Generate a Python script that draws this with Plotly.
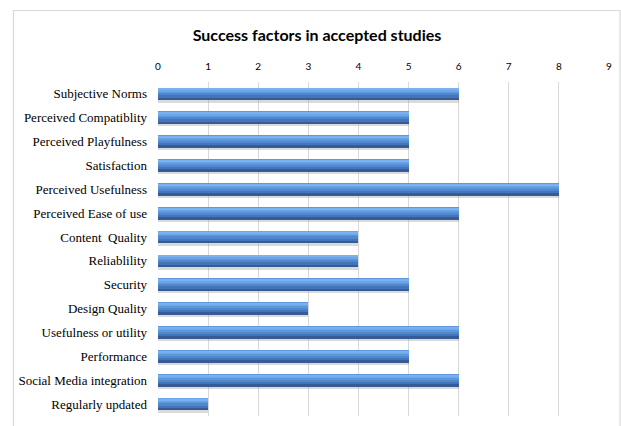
import plotly.graph_objects as go

categories = ["Subjective Norms", "Perceived Compatiblity", "Perceived Playfulness",
              "Satisfaction", "Perceived Usefulness", "Perceived Ease of use",
              "Content  Quality", "Reliablility", "Security", "Design Quality",
              "Usefulness or utility", "Performance", "Social Media integration",
              "Regularly updated"]
values = [6, 5, 5, 5, 8, 6, 4, 4, 5, 3, 6, 5, 6, 1]
x_ticks = [0, 1, 2, 3, 4, 5, 6, 7, 8, 9]
title_text = "Success factors in accepted studies"

W = 0.53
top = -W / 2
# layers: (color, offset, width) - simulate vertical gradient of Excel bars
layers = [
    ("rgba(150,150,150,0.35)", top + 0.07, W + 0.03),
    ("#375c95", top, W),
    ("#4475b9", top, W * 0.80),
    ("#5087ce", top, W * 0.62),
    ("#5d97de", top, W * 0.45),
    ("#6ca6e8", top + W * 0.05, W * 0.28),
    ("#7ab2ef", top + W * 0.10, W * 0.12),
]

fig = go.Figure()
for color, off, w in layers:
    fig.add_trace(go.Bar(
        x=values, y=categories, orientation="h",
        marker=dict(color=color, line=dict(width=0)),
        offset=off, width=w, hoverinfo="skip", showlegend=False,
    ))

L, R, T, B = 158, 12, 82, 10
PW = 621 - L - R
PH = 426 - T - B
def px_x(p):
    return (p - L) / PW
def px_y(p):
    return (426 - B - p) / PH

fig.add_shape(type="rect", xref="paper", yref="paper",
              x0=px_x(13.5), x1=px_x(620), y0=px_y(440), y1=px_y(10.5),
              line=dict(color="#d9d9d9", width=1.2), fillcolor="rgba(0,0,0,0)",
              layer="below")

fig.update_layout(
    width=621, height=426,
    margin=dict(l=L, r=R, t=T, b=B),
    paper_bgcolor="white", plot_bgcolor="white",
    barmode="overlay",
    title=dict(text="<b>" + title_text + "</b>", x=(317 - L) / PW, xref="paper",
               xanchor="center", y=1 - 35 / 426, yanchor="middle",
               font=dict(family="Lato, Liberation Sans", size=16, color="black")),
    xaxis=dict(side="top", range=[0, 9], tickvals=x_ticks, ticktext=[str(t) for t in x_ticks],
               showgrid=True, gridcolor="#d9d9d9", gridwidth=1, zeroline=False,
               showline=False, ticks="", ticklen=0, ticklabelstandoff=9,
               tickfont=dict(family="Lato, Liberation Sans", size=10, color="black"),
               fixedrange=True),
    yaxis=dict(categoryorder="array", categoryarray=categories, autorange="reversed",
               showgrid=False, zeroline=False, showline=False, ticks="",
               ticklabelstandoff=10,
               tickfont=dict(family="Liberation Serif, Times New Roman, serif", size=13, color="black"),
               fixedrange=True),
    bargap=0,
)
fig.write_html("out.html")
